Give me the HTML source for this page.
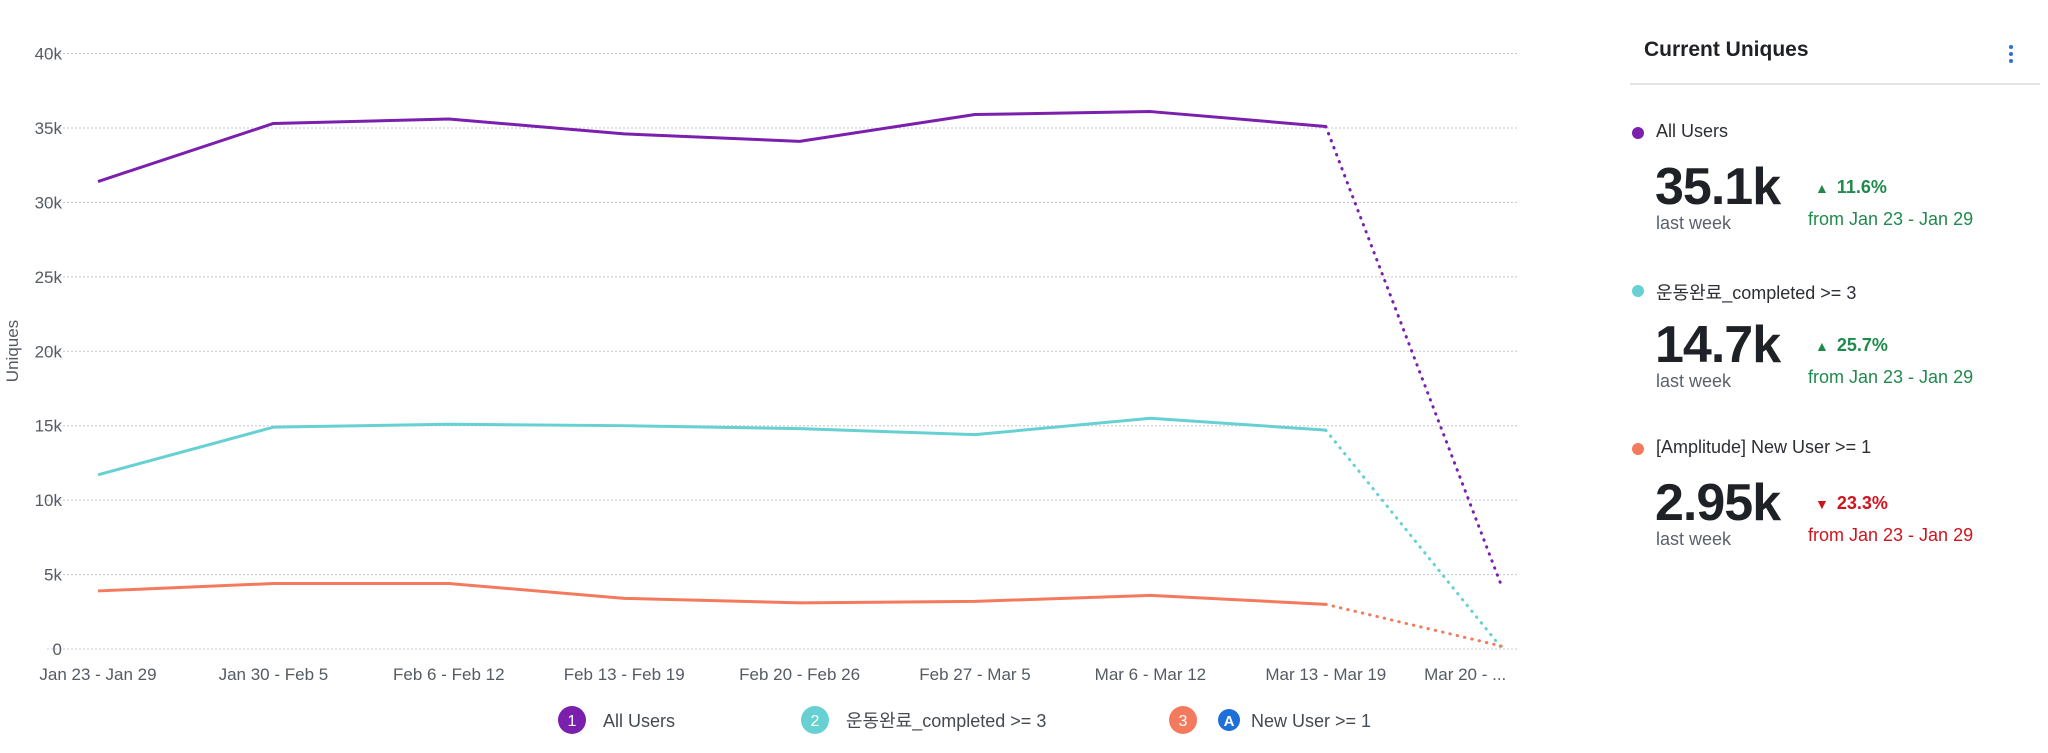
<!DOCTYPE html>
<html><head><meta charset="utf-8"><style>
body{margin:0;width:2048px;height:753px;background:#fff;font-family:"Liberation Sans","Noto Sans CJK KR",sans-serif;overflow:hidden;position:relative}
.abs{position:absolute;white-space:nowrap}
.panel-title{left:1644px;top:38px;font-size:21px;font-weight:bold;color:#1e2125}
.rule{left:1630px;top:83px;width:410px;height:2px;background:#e2e4e8}
.dot{width:12px;height:12px;border-radius:50%}
.lbl{font-size:18px;color:#2b2e33}
.big{font-size:52px;font-weight:bold;color:#1e2125;letter-spacing:-1px}
.lw{font-size:18px;color:#5b616b}
.pct{font-size:18px;font-weight:bold}
.from{font-size:18px}
</style></head><body>
<svg id="chart" width="1560" height="753" style="position:absolute;left:0;top:0" xmlns="http://www.w3.org/2000/svg"></svg>

<div class="abs panel-title">Current Uniques</div>
<svg class="abs" style="left:2005px;top:42px" width="12" height="24"><circle cx="6" cy="5" r="2" fill="#2f6fd6"/><circle cx="6" cy="12" r="2" fill="#2f6fd6"/><circle cx="6" cy="19" r="2" fill="#2f6fd6"/></svg>
<div class="abs rule"></div>

<div id="cards"></div>

<script>
const categories=["Jan 23 - Jan 29","Jan 30 - Feb 5","Feb 6 - Feb 12","Feb 13 - Feb 19","Feb 20 - Feb 26","Feb 27 - Mar 5","Mar 6 - Mar 12","Mar 13 - Mar 19","Mar 20 - ..."];
const allUsers=[31.4,35.3,35.6,34.6,34.1,35.9,36.1,35.1,4.3];
const completed=[11.7,14.9,15.1,15.0,14.8,14.4,15.5,14.7,0.1];
const newUsers=[3.9,4.4,4.4,3.4,3.1,3.2,3.6,3.0,0.2];
const yTicks=[0,5,10,15,20,25,30,35,40];
const yTickLabels=["0","5k","10k","15k","20k","25k","30k","35k","40k"];
const seriesNames=["All Users","운동완료_completed >= 3","New User >= 1"];
const colors=["#7b1fad","#67d0d2","#f47a5e"];

const NS="http://www.w3.org/2000/svg";
const svg=document.getElementById('chart');
const x0=98,dx=175.4,yTop=53.5,yBot=649,gx0=47,gx1=1517;
const X=i=>x0+i*dx;
const Y=v=>yBot-(v/40)*(yBot-yTop);
function mk(tag,attrs){const e=document.createElementNS(NS,tag);for(const k in attrs)e.setAttribute(k,attrs[k]);svg.appendChild(e);return e;}
yTicks.forEach((t,i)=>{
  const g=mk('line',{x1:gx0,x2:gx1,y1:Y(t),y2:Y(t),stroke:'#c3c8d0','stroke-width':1,'stroke-dasharray':'2 2'});
  
  
  const tx=mk('text',{x:62,y:Y(t)+6,'text-anchor':'end','font-size':17,fill:'#555b63'});
  tx.textContent=yTickLabels[i];
  
  
});
categories.forEach((c,i)=>{
  const last=i===categories.length-1;
  const tx=mk('text',{x:last?X(i)-36:X(i),y:680,'text-anchor':'middle','font-size':17,fill:'#555b63'});
  tx.textContent=c;
  
  
});
const yt=mk('text',{x:18,y:351,'text-anchor':'middle','font-size':17,fill:'#555b63',transform:'rotate(-90 18 351)'});
yt.textContent='Uniques';


[allUsers,completed,newUsers].forEach((s,si)=>{
  const n=s.length-1;
  const pts=s.slice(0,n).map((v,i)=>X(i)+','+Y(v)).join(' ');
  const p=mk('polyline',{points:pts,fill:'none',stroke:colors[si],'stroke-width':3,'stroke-linejoin':'round'});
  
  
  const d=mk('line',{x1:X(n-1),y1:Y(s[n-1]),x2:X(n),y2:Y(s[n]),stroke:colors[si],'stroke-width':3,'stroke-dasharray':'0.5 7','stroke-linecap':'round'});
  
  
});
const legX=[572,815,1183],txtX=[603,846,1251];
seriesNames.forEach((nm,i)=>{
  const c=mk('circle',{cx:legX[i],cy:720,r:14,fill:colors[i]});
  
  
  const n=mk('text',{x:legX[i],y:726,'text-anchor':'middle','font-size':16,fill:'#fff'});
  n.textContent=String(i+1);
  
  
  const t=mk('text',{x:txtX[i],y:727,'font-size':18,fill:'#444a52'});
  t.textContent=nm;
  
  
});
const ic=mk('circle',{cx:1229,cy:720,r:11,fill:'#1f6fd8'});


const it=mk('text',{x:1229,y:726,'text-anchor':'middle','font-size':15,'font-weight':'bold',fill:'#fff'});
it.textContent='A';



const cardLabels=["All Users","운동완료_completed >= 3","[Amplitude] New User >= 1"];
const cardValues=["35.1k","14.7k","2.95k"];
const cardPcts=["11.6%","25.7%","23.3%"];
const cardUp=[true,true,false];
const cards=document.getElementById('cards');
cardLabels.forEach((l,i)=>{
  const top=i*158;
  const col=cardUp[i]?'#1f8a4c':'#d0141e';
  const w=document.createElement('div');
  
  
  w.innerHTML=
   `<div class="abs dot" style="left:1632px;top:${127+top}px;background:${colors[i]}"></div>`+
   `<div class="abs lbl" style="left:1656px;top:${121+top}px">${l}</div>`+
   `<div class="abs big" style="left:1655px;top:${157+top}px">${cardValues[i]}</div>`+
   `<div class="abs lw" style="left:1656px;top:${213+top}px">last week</div>`+
   `<div class="abs pct" style="left:1815px;top:${177+top}px;color:${col}"><span style="font-size:14px;margin-right:8px">${cardUp[i]?'▲':'▼'}</span>${cardPcts[i]}</div>`+
   `<div class="abs from" style="left:1808px;top:${209+top}px;color:${col}">from Jan 23 - Jan 29</div>`;
  cards.appendChild(w);
});
</script>
</body></html>
